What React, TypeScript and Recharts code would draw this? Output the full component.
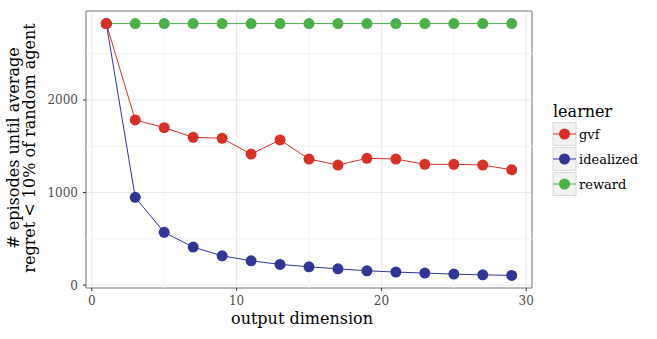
import React from "react";
import {
  ComposedChart,
  Line,
  Scatter,
  XAxis,
  YAxis,
  CartesianGrid,
  ReferenceLine,
  ReferenceArea,
} from "recharts";

const outputDims = [1, 3, 5, 7, 9, 11, 13, 15, 17, 19, 21, 23, 25, 27, 29];
const gvfValues = [2825, 1784, 1701, 1597, 1586, 1416, 1568, 1362, 1297, 1370, 1362, 1305, 1305, 1297, 1246];
const idealizedValues = [2825, 948, 570, 411, 317, 263, 224, 198, 176, 155, 141, 130, 119, 111, 105];
const rewardValues = [2825, 2825, 2825, 2825, 2825, 2825, 2825, 2825, 2825, 2825, 2825, 2825, 2825, 2825, 2825];

const xTicks = [0, 10, 20, 30];
const xMinor = [5, 15, 25];
const yTicks = [0, 1000, 2000];
const yMinor = [500, 1500, 2500];

const learners = ["gvf", "idealized", "reward"];
const colors: Record<string, string> = {
  gvf: "#d73027",
  idealized: "#313695",
  reward: "#4daf4a",
};

const rows = outputDims.map((x, i) => ({
  x,
  gvf: gvfValues[i],
  idealized: idealizedValues[i],
  reward: rewardValues[i],
}));

const pts = (vals: number[]) => outputDims.map((x, i) => ({ x, y: vals[i] }));
const seriesPoints: Record<string, { x: number; y: number }[]> = {
  gvf: pts(gvfValues),
  idealized: pts(idealizedValues),
  reward: pts(rewardValues),
};

const FONT = "DejaVu Serif";
const X_DOMAIN: [number, number] = [-0.4, 30.4];
const Y_DOMAIN: [number, number] = [-31, 2961];

const dotShape = (color: string) => (props: any) => (
  <circle cx={props.cx} cy={props.cy} r={5.5} fill={color} stroke="none" />
);

const XTick = (props: any) => {
  const { x, y, payload } = props;
  return (
    <text x={x} y={y + 10} textAnchor="middle" fill="#4d4d4d" style={{ fontFamily: FONT, fontSize: 12 }}>
      {payload.value}
    </text>
  );
};

const YTick = (props: any) => {
  const { x, y, payload } = props;
  return (
    <text x={x} y={y + 4.5} textAnchor="end" fill="#4d4d4d" style={{ fontFamily: FONT, fontSize: 12 }}>
      {payload.value}
    </text>
  );
};

export default function App() {
  return (
    <div style={{ position: "fixed", left: 0, top: 0, width: 657, height: 339, background: "#fff" }}>
      <ComposedChart
        width={657}
        height={339}
        data={rows}
        margin={{ top: 11, right: 125, left: 0, bottom: 0 }}
      >
        <CartesianGrid stroke="#e8e8e8" strokeWidth={1} />
        {yMinor.map((v) => (
          <ReferenceLine key={"ym" + v} y={v} stroke="#f3f3f3" strokeWidth={1} />
        ))}
        {xMinor.map((v) => (
          <ReferenceLine key={"xm" + v} x={v} stroke="#f3f3f3" strokeWidth={1} />
        ))}
        <XAxis
          dataKey="x"
          type="number"
          domain={X_DOMAIN}
          ticks={xTicks}
          allowDataOverflow
          axisLine={false}
          tickSize={3}
          tickMargin={4}
          tickLine={{ stroke: "#333333" }}
          tick={<XTick />}
          height={51}
          interval={0}
        />
        <YAxis
          type="number"
          domain={Y_DOMAIN}
          ticks={yTicks}
          allowDataOverflow
          axisLine={false}
          tickSize={3}
          tickMargin={5}
          tickLine={{ stroke: "#333333" }}
          tick={<YTick />}
          width={86}
          interval={0}
        />
        {["reward", "idealized", "gvf"].map((k) => (
          <Scatter
            key={"s" + k}
            data={seriesPoints[k]}
            dataKey="y"
            fill={colors[k]}
            shape={dotShape(colors[k])}
            isAnimationActive={false}
          />
        ))}
        {learners.map((k) => (
          <Line
            key={"l" + k}
            dataKey={k}
            stroke={colors[k]}
            strokeWidth={1}
            dot={false}
            activeDot={false}
            isAnimationActive={false}
          />
        ))}
        <ReferenceArea
          x1={X_DOMAIN[0]}
          x2={X_DOMAIN[1]}
          y1={Y_DOMAIN[0]}
          y2={Y_DOMAIN[1]}
          fill="none"
          fillOpacity={0}
          stroke="#7f7f7f"
          strokeWidth={1}
          ifOverflow="visible"
        />
      </ComposedChart>
      <svg
        width={657}
        height={339}
        style={{ position: "absolute", left: 0, top: 0, pointerEvents: "none" }}
      >
        <text x={302} y={324} textAnchor="middle" style={{ fontFamily: FONT, fontSize: 16 }} fill="#000">
          output dimension
        </text>
        <g transform="translate(0,148) rotate(-90)">
          <text x={0} y={19} textAnchor="middle" style={{ fontFamily: FONT, fontSize: 16 }} fill="#000">
            # episodes until average
          </text>
          <text x={0} y={35} textAnchor="middle" style={{ fontFamily: FONT, fontSize: 16 }} fill="#000">
            regret &lt; 10% of random agent
          </text>
        </g>
        <text x={553} y={117} style={{ fontFamily: FONT, fontSize: 16 }} fill="#000">
          learner
        </text>
        {learners.map((k, i) => {
          const top = 122.5 + i * 25;
          const cy = top + 11.5;
          return (
            <g key={"lg" + k}>
              <rect x={553} y={top} width={23} height={23} fill="#f2f2f2" stroke="#d9d9d9" strokeWidth={1} />
              <line x1={553} y1={cy} x2={576} y2={cy} stroke={colors[k]} strokeWidth={1} />
              <circle cx={564.5} cy={cy} r={5.5} fill={colors[k]} />
              <text x={579} y={cy + 4.5} style={{ fontFamily: FONT, fontSize: 13 }} fill="#000">
                {k}
              </text>
            </g>
          );
        })}
      </svg>
    </div>
  );
}
